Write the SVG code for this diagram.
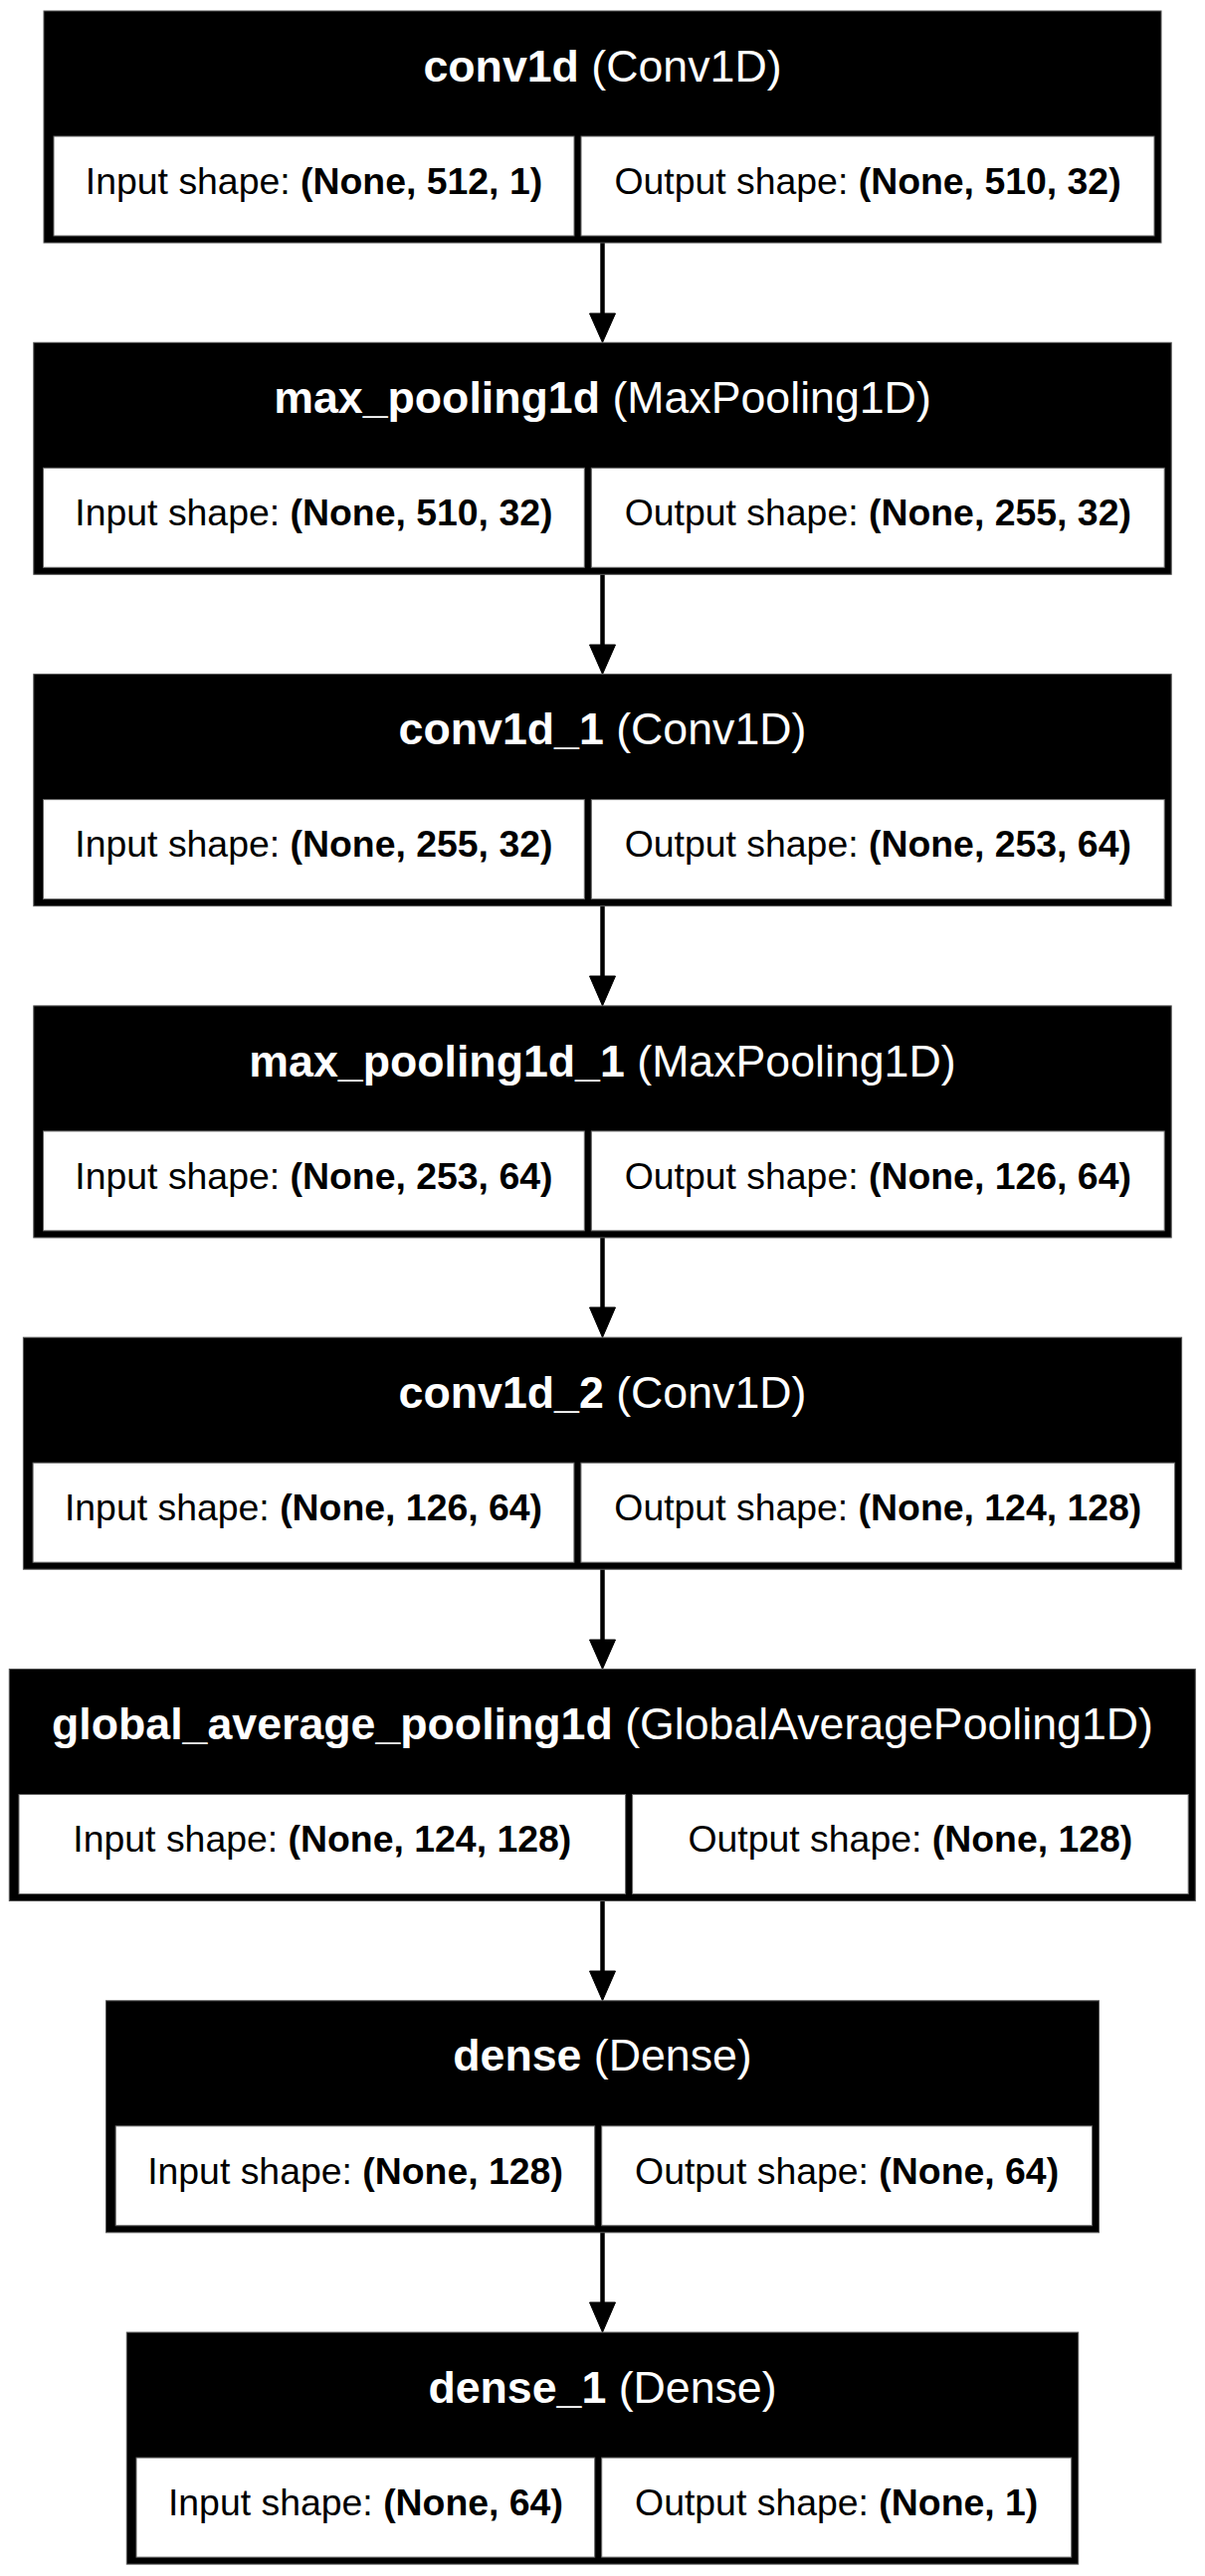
<svg xmlns="http://www.w3.org/2000/svg" width="1211" height="2589" viewBox="0 0 1211 2589">
<style>
.box{fill:#000;stroke:#555;stroke-width:1}
.cell{fill:#fff;stroke:#666;stroke-width:1}
.hd{font-family:"Liberation Sans",Arial,sans-serif;font-size:44.7px;fill:#fff;text-anchor:middle}
.bd{font-family:"Liberation Sans",Arial,sans-serif;font-size:37.4px;fill:#000;text-anchor:middle}
.b{font-weight:bold}
.edge{stroke:#000;stroke-width:4.5;fill:none}
.head{fill:#000;stroke:#000;stroke-width:1}
</style>
<rect width="1211" height="2589" fill="#fff"/>
<g id="connectors">
<line class="edge" x1="605.5" y1="244" x2="605.5" y2="316"/><polygon class="head" points="592.5,315 618.5,315 605.5,344.3"/>
<line class="edge" x1="605.5" y1="577.3" x2="605.5" y2="649"/><polygon class="head" points="592.5,648 618.5,648 605.5,677.6"/>
<line class="edge" x1="605.5" y1="910.6" x2="605.5" y2="982"/><polygon class="head" points="592.5,981 618.5,981 605.5,1010.9"/>
<line class="edge" x1="605.5" y1="1243.9" x2="605.5" y2="1315"/><polygon class="head" points="592.5,1314 618.5,1314 605.5,1344.2"/>
<line class="edge" x1="605.5" y1="1577.2" x2="605.5" y2="1649"/><polygon class="head" points="592.5,1648 618.5,1648 605.5,1677.5"/>
<line class="edge" x1="605.5" y1="1910.5" x2="605.5" y2="1982"/><polygon class="head" points="592.5,1981 618.5,1981 605.5,2010.8"/>
<line class="edge" x1="605.5" y1="2243.8" x2="605.5" y2="2315"/><polygon class="head" points="592.5,2314 618.5,2314 605.5,2344.1"/>
</g>
<g id="conv1d">
<rect class="box" x="44" y="11" width="1123" height="233"/>
<rect class="cell" x="54" y="137" width="523" height="100"/>
<rect class="cell" x="584" y="137" width="576" height="100"/>
<text class="hd" x="605.5" y="81.6"><tspan class="b">conv1d</tspan> (Conv1D)</text>
<text class="bd" x="315.5" y="194.7">Input shape: <tspan class="b">(None, 512, 1)</tspan></text>
<text class="bd" x="872" y="194.7">Output shape: <tspan class="b">(None, 510, 32)</tspan></text>
</g>
<g id="max_pooling1d">
<rect class="box" x="33.8" y="344.3" width="1143.4" height="233"/>
<rect class="cell" x="43.5" y="470.3" width="543.8" height="100"/>
<rect class="cell" x="594.3" y="470.3" width="575.9" height="100"/>
<text class="hd" x="605.5" y="414.9"><tspan class="b">max_pooling1d</tspan> (MaxPooling1D)</text>
<text class="bd" x="315.4" y="528">Input shape: <tspan class="b">(None, 510, 32)</tspan></text>
<text class="bd" x="882.3" y="528">Output shape: <tspan class="b">(None, 255, 32)</tspan></text>
</g>
<g id="conv1d_1">
<rect class="box" x="33.8" y="677.6" width="1143.4" height="233"/>
<rect class="cell" x="43.5" y="803.6" width="543.8" height="100"/>
<rect class="cell" x="594.3" y="803.6" width="575.9" height="100"/>
<text class="hd" x="605.5" y="748.2"><tspan class="b">conv1d_1</tspan> (Conv1D)</text>
<text class="bd" x="315.4" y="861.3">Input shape: <tspan class="b">(None, 255, 32)</tspan></text>
<text class="bd" x="882.3" y="861.3">Output shape: <tspan class="b">(None, 253, 64)</tspan></text>
</g>
<g id="max_pooling1d_1">
<rect class="box" x="33.8" y="1010.9" width="1143.4" height="233"/>
<rect class="cell" x="43.5" y="1136.9" width="543.8" height="100"/>
<rect class="cell" x="594.3" y="1136.9" width="575.9" height="100"/>
<text class="hd" x="605.5" y="1081.5"><tspan class="b">max_pooling1d_1</tspan> (MaxPooling1D)</text>
<text class="bd" x="315.4" y="1194.6">Input shape: <tspan class="b">(None, 253, 64)</tspan></text>
<text class="bd" x="882.3" y="1194.6">Output shape: <tspan class="b">(None, 126, 64)</tspan></text>
</g>
<g id="conv1d_2">
<rect class="box" x="23.4" y="1344.2" width="1164.2" height="233"/>
<rect class="cell" x="33.1" y="1470.2" width="543.8" height="100"/>
<rect class="cell" x="583.9" y="1470.2" width="596.7" height="100"/>
<text class="hd" x="605.5" y="1414.8"><tspan class="b">conv1d_2</tspan> (Conv1D)</text>
<text class="bd" x="305" y="1527.9">Input shape: <tspan class="b">(None, 126, 64)</tspan></text>
<text class="bd" x="882.3" y="1527.9">Output shape: <tspan class="b">(None, 124, 128)</tspan></text>
</g>
<g id="global_average_pooling1d">
<rect class="box" x="9.3" y="1677.5" width="1192" height="233"/>
<rect class="cell" x="19" y="1803.5" width="609.6" height="100"/>
<rect class="cell" x="635.6" y="1803.5" width="558.6" height="100"/>
<text class="hd" x="605.5" y="1748.1"><tspan class="b">global_average_pooling1d</tspan> (GlobalAveragePooling1D)</text>
<text class="bd" x="323.8" y="1861.2">Input shape: <tspan class="b">(None, 124, 128)</tspan></text>
<text class="bd" x="914.9" y="1861.2">Output shape: <tspan class="b">(None, 128)</tspan></text>
</g>
<g id="dense">
<rect class="box" x="106.5" y="2010.8" width="998" height="233"/>
<rect class="cell" x="116.2" y="2136.8" width="481.5" height="100"/>
<rect class="cell" x="604.7" y="2136.8" width="492.8" height="100"/>
<text class="hd" x="605.5" y="2081.4"><tspan class="b">dense</tspan> (Dense)</text>
<text class="bd" x="357" y="2194.5">Input shape: <tspan class="b">(None, 128)</tspan></text>
<text class="bd" x="851.1" y="2194.5">Output shape: <tspan class="b">(None, 64)</tspan></text>
</g>
<g id="dense_1">
<rect class="box" x="127.3" y="2344.1" width="956.4" height="233"/>
<rect class="cell" x="137" y="2470.1" width="460.7" height="100"/>
<rect class="cell" x="604.7" y="2470.1" width="472" height="100"/>
<text class="hd" x="605.5" y="2414.7"><tspan class="b">dense_1</tspan> (Dense)</text>
<text class="bd" x="367.4" y="2527.8">Input shape: <tspan class="b">(None, 64)</tspan></text>
<text class="bd" x="840.7" y="2527.8">Output shape: <tspan class="b">(None, 1)</tspan></text>
</g>
</svg>
